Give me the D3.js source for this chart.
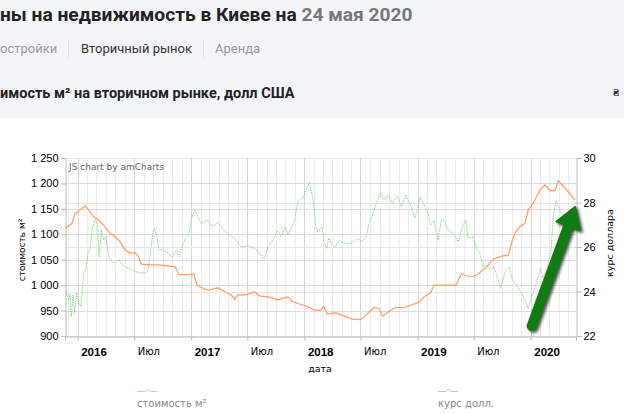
<!DOCTYPE html>
<html><head><meta charset="utf-8">
<script src="https://cdn.jsdelivr.net/npm/d3@7"></script>
<style>
html,body{margin:0;padding:0;background:#fff;}
svg{display:block;}
</style></head>
<body>
<svg id="c" width="624" height="414"></svg>
<script>
// ---- data ----
const priceDates = ["2015-11-22","2015-12-13","2015-12-24","2016-01-09","2016-01-25","2016-02-05","2016-02-21","2016-03-08","2016-03-24","2016-04-15","2016-05-01","2016-05-17","2016-06-02","2016-06-18","2016-07-04","2016-07-15","2016-07-24","2016-08-17","2016-09-18","2016-10-20","2016-11-10","2016-11-23","2016-12-18","2017-01-09","2017-01-20","2017-02-08","2017-02-24","2017-03-28","2017-04-29","2017-05-10","2017-05-21","2017-06-01","2017-06-27","2017-07-24","2017-08-10","2017-09-06","2017-10-08","2017-11-09","2017-11-20","2017-12-11","2018-01-12","2018-02-03","2018-02-22","2018-03-05","2018-03-16","2018-04-12","2018-05-09","2018-06-05","2018-07-02","2018-07-18","2018-08-14","2018-08-30","2018-09-10","2018-10-07","2018-10-23","2018-11-19","2018-12-11","2019-01-06","2019-01-22","2019-02-12","2019-02-23","2019-05-05","2019-05-23","2019-06-08","2019-06-30","2019-07-16","2019-08-12","2019-09-02","2019-09-29","2019-10-21","2019-11-01","2019-11-11","2019-11-27","2019-12-14","2019-12-24","2020-01-09","2020-01-31","2020-02-16","2020-03-03","2020-03-19","2020-03-30","2020-04-15","2020-05-01","2020-05-17","2020-05-24"];
const priceValues = [1112,1121,1141,1148,1156,1148,1135,1128,1118,1102,1095,1085,1069,1063,1064,1056,1041,1040,1040,1038,1036,1021,1020,1022,1000,994,990,995,984,981,972,981,981,987,979,977,971,977,969,964,958,951,951,958,943,946,939,933,932,941,956,954,939,951,956,956,961,966,977,985,1000,1000,1023,1018,1017,1022,1036,1051,1057,1059,1085,1102,1115,1122,1148,1161,1187,1197,1186,1186,1205,1195,1184,1171,1168];

const rateDates = ["2015-11-24","2015-12-03","2015-12-07","2015-12-11","2015-12-17","2015-12-22","2015-12-29","2016-01-04","2016-01-12","2016-01-20","2016-01-27","2016-02-03","2016-02-10","2016-02-18","2016-02-26","2016-03-05","2016-03-10","2016-03-17","2016-03-25","2016-04-01","2016-04-10","2016-04-26","2016-05-12","2016-05-23","2016-06-13","2016-07-04","2016-08-06","2016-08-15","2016-08-22","2016-08-30","2016-09-05","2016-09-13","2016-09-18","2016-09-29","2016-10-20","2016-10-31","2016-11-14","2016-11-23","2016-12-02","2016-12-13","2016-12-24","2017-01-01","2017-01-12","2017-01-23","2017-02-02","2017-02-13","2017-02-26","2017-03-09","2017-03-30","2017-04-19","2017-05-21","2017-06-11","2017-07-08","2017-07-30","2017-08-15","2017-08-24","2017-09-06","2017-09-22","2017-10-06","2017-10-19","2017-11-01","2017-11-09","2017-11-29","2017-12-11","2017-12-27","2018-01-06","2018-01-17","2018-01-25","2018-01-31","2018-02-07","2018-02-13","2018-02-27","2018-03-05","2018-03-14","2018-03-21","2018-04-01","2018-04-09","2018-04-23","2018-05-09","2018-05-31","2018-06-21","2018-07-07","2018-07-18","2018-07-29","2018-08-14","2018-08-25","2018-09-03","2018-09-16","2018-09-28","2018-10-12","2018-10-28","2018-11-10","2018-11-24","2018-12-11","2018-12-23","2019-01-03","2019-01-09","2019-01-20","2019-02-02","2019-02-12","2019-02-23","2019-03-08","2019-03-19","2019-03-27","2019-04-10","2019-04-26","2019-05-12","2019-05-28","2019-06-06","2019-06-13","2019-06-30","2019-07-10","2019-07-21","2019-07-31","2019-08-12","2019-08-22","2019-09-04","2019-09-18","2019-09-26","2019-10-09","2019-10-23","2019-11-03","2019-11-16","2019-12-02","2019-12-13","2019-12-24","2020-01-04","2020-01-14","2020-01-25","2020-02-02","2020-02-08","2020-02-22","2020-03-06","2020-03-14","2020-03-23","2020-04-05","2020-04-21","2020-05-07","2020-05-17","2020-05-24"];
const rateValues = [24.04,23.62,23.89,22.87,23.84,23.02,23.95,23.47,23.32,24.82,24.97,25.72,25.94,26.91,27.24,26.99,25.54,26.76,26.31,26.46,25.56,25.27,25.45,25.19,25.04,24.89,24.82,24.97,25.72,26.62,26.84,26.46,25.87,25.9,25.72,25.54,25.87,25.56,25.99,26.39,26.54,27.24,27.69,27.36,27.06,27.14,27.21,26.91,27.11,26.69,26.39,26.01,26.04,25.87,25.64,25.45,26.01,26.31,26.73,26.49,26.91,26.54,27.14,28.04,28.19,28.56,28.89,28.41,27.93,26.9,26.69,26.91,26.24,25.94,26.39,26.09,25.99,26.28,26.19,26.13,26.39,26.24,26.46,27.06,27.66,28.11,28.44,28.11,28.34,27.96,28.29,27.81,28.34,27.81,27.29,27.81,28.23,27.96,27.59,26.99,27.21,26.31,27.24,27.21,26.76,26.61,26.24,26.99,27.21,26.39,26.46,25.94,25.72,25.11,25.19,24.97,25.11,24.52,24.14,24.82,25.09,24.52,24.29,23.92,23.62,23.24,23.77,24.14,24.67,25.04,24.6,25.0,25.8,27.36,28.08,27.58,27.29,26.99,26.72,26.9];

const leftTicks = [900,950,1000,1050,1100,1150,1200,1250];
const rightTicks = [22,24,26,28,30];
const xTickDates = ["2016-01-01","2016-07-01","2017-01-01","2017-07-01","2018-01-01","2018-07-01","2019-01-01","2019-07-01","2020-01-01"];
const xTickLabels = ["2016","Июл","2017","Июл","2018","Июл","2019","Июл","2020"];
const xDomain = ["2015-11-21","2020-05-26"];
const seriesNames = ["стоимость м²","курс долл."];
// annotation arrow (date, rate)
const arrowTail = ["2020-01-04",22.45];
const arrowTip = ["2020-05-23",27.8];

// ---- drawing ----
const parse = d3.timeParse("%Y-%m-%d");
const svg = d3.select("#c");
const L=65, R=576, T=158, B=336;

svg.append("rect").attr("x",0).attr("y",0).attr("width",624).attr("height",118).attr("fill","#f4f5f9");

// header texts
const title = svg.append("text").attr("x",0).attr("y",21)
  .attr("font-family","Roboto").attr("font-weight","bold").attr("font-size",19.2).attr("fill","#222");
title.append("tspan").text("ны на недвижимость в Киеве на ");
title.append("tspan").attr("fill","#777").text("24 мая 2020");

svg.append("text").attr("x",0).attr("y",53).attr("font-family","Roboto").attr("font-size",13).attr("fill","#999").text("остройки");
svg.append("line").attr("x1",68.5).attr("x2",68.5).attr("y1",40).attr("y2",57).attr("stroke","#dcdde2");
svg.append("text").attr("x",81).attr("y",53).attr("font-family","Roboto").attr("font-size",13).attr("fill","#333").text("Вторичный рынок");
svg.append("line").attr("x1",203.5).attr("x2",203.5).attr("y1",40).attr("y2",57).attr("stroke","#dcdde2");
svg.append("text").attr("x",215).attr("y",53).attr("font-family","Roboto").attr("font-size",13).attr("fill","#999").text("Аренда");

svg.append("text").attr("x",0).attr("y",97.5).attr("font-family","Roboto").attr("font-weight","bold").attr("font-size",14.5).attr("fill","#222").text("имость м² на вторичном рынке, долл США");
svg.append("text").attr("x",613).attr("y",96).attr("font-family","Roboto").attr("font-weight","bold").attr("font-size",11).attr("fill","#222").text("₴");

// scales
const x = d3.scaleTime().domain(xDomain.map(parse)).range([L,R]);
const yL = d3.scaleLinear().domain([900,1250]).range([B,T]);
const yR = d3.scaleLinear().domain([22,30]).range([B,T]);

// grid
const grid = svg.append("g");
const months = d3.timeMonth.range(x.domain()[0], x.domain()[1]);
grid.selectAll("line.vm").data(months).join("line")
  .attr("x1",d=>Math.round(x(d))+0.5).attr("x2",d=>Math.round(x(d))+0.5)
  .attr("y1",T).attr("y2",B)
  .attr("stroke", d=> d.getMonth()%6===0 ? "#d8d8d8" : "#ececec");
grid.selectAll("line.hl").data(leftTicks).join("line")
  .attr("x1",L).attr("x2",R).attr("y1",d=>Math.round(yL(d))+0.5).attr("y2",d=>Math.round(yL(d))+0.5)
  .attr("stroke","#dedede");
grid.selectAll("line.hr").data(rightTicks).join("line")
  .attr("x1",L).attr("x2",R).attr("y1",d=>Math.round(yR(d))+0.5).attr("y2",d=>Math.round(yR(d))+0.5)
  .attr("stroke","#e6e6e6");

// credit
svg.append("text").attr("x",69).attr("y",170).attr("font-family","DejaVu Sans").attr("font-size",9).attr("fill","#666").text("JS chart by amCharts");

// axes
const loc = d3.formatLocale({decimal:",", thousands:"\u00a0", grouping:[3], currency:["",""]});
const fmt = loc.format(",d");
const axL = svg.append("g").attr("transform",`translate(${L+0.5},0)`)
  .call(d3.axisLeft(yL).tickValues(leftTicks).tickFormat(fmt).tickSize(4).tickPadding(3));
const axR = svg.append("g").attr("transform",`translate(${R+0.5},0)`)
  .call(d3.axisRight(yR).tickValues(rightTicks).tickSize(5).tickPadding(2));
const axB = svg.append("g").attr("transform",`translate(0,${B+0.5})`)
  .call(d3.axisBottom(x).tickValues(xTickDates.map(parse)).tickFormat((d,i)=>xTickLabels[i]).tickSize(4).tickPadding(7));
[axL,axR,axB].forEach(a=>{
  a.select(".domain").attr("stroke","#bbb");
  a.selectAll(".tick line").attr("stroke","#bbb");
  a.selectAll("text").attr("font-family","Liberation Sans").attr("font-size",11).attr("fill","#000");
});
axB.selectAll(".tick text").attr("text-anchor","start").attr("dx",3)
  .attr("font-weight",(d,i)=>xTickLabels[i]==="Июл"?"normal":"bold")
  .attr("font-size",(d,i)=>xTickLabels[i]==="Июл"?10:11.5)
  .attr("font-family",(d,i)=>xTickLabels[i]==="Июл"?"DejaVu Sans":"Liberation Sans");

// axis titles
svg.append("text").attr("transform","translate(25,250) rotate(-90)").attr("text-anchor","middle")
  .attr("font-family","DejaVu Sans").attr("font-size",9).attr("fill","#000").text("стоимость м²");
svg.append("text").attr("transform","translate(613,243) rotate(-90)").attr("text-anchor","middle")
  .attr("font-family","DejaVu Sans").attr("font-size",9.5).attr("fill","#000").text("курс доллара");
svg.append("text").attr("x",320).attr("y",372).attr("text-anchor","middle")
  .attr("font-family","DejaVu Sans").attr("font-size",9.5).attr("fill","#000").text("дата");

// lines
const priceData = priceDates.map((d,i)=>({d:parse(d), v:priceValues[i]}));
const rateData = rateDates.map((d,i)=>({d:parse(d), v:rateValues[i]}));
svg.append("path").datum(rateData)
  .attr("d", d3.line().x(p=>x(p.d)).y(p=>yR(p.v)))
  .attr("fill","none").attr("stroke","#5cc25c").attr("stroke-width",1).attr("stroke-dasharray","1.5,1").attr("opacity",0.7);
svg.append("path").datum(priceData)
  .attr("d", d3.line().x(p=>x(p.d)).y(p=>yL(p.v)))
  .attr("fill","none").attr("stroke","#ff9050").attr("stroke-width",1.2).attr("opacity",0.9);

// arrow annotation
const defs = svg.append("defs");
const f = defs.append("filter").attr("id","sh").attr("x","-50%").attr("y","-50%").attr("width","200%").attr("height","200%");
f.append("feGaussianBlur").attr("stdDeviation",1.6);
const tx = x(parse(arrowTail[0])), ty = yR(arrowTail[1]);
const hx = x(parse(arrowTip[0])), hy = yR(arrowTip[1]);
const len = Math.hypot(hx-tx, hy-ty), ux=(hx-tx)/len, uy=(hy-ty)/len, nx=-uy, ny=ux;
const headLen=20, headW=12.5, shaftW=10;
const bx = hx-ux*headLen, by = hy-uy*headLen;
function arrow(g, dx, dy, col){
  g.append("line").attr("x1",tx+dx).attr("y1",ty+dy).attr("x2",bx+ux*2+dx).attr("y2",by+uy*2+dy)
    .attr("stroke",col).attr("stroke-width",shaftW).attr("stroke-linecap","round");
  g.append("path").attr("d",`M${hx+dx},${hy+dy}L${bx+nx*headW+dx},${by+ny*headW+dy}L${bx-nx*headW+dx},${by-ny*headW+dy}Z`)
    .attr("fill",col).attr("stroke",col).attr("stroke-width",2).attr("stroke-linejoin","round");
}
arrow(svg.append("g").attr("filter","url(#sh)").attr("opacity",0.7), 2, 2, "#000");
arrow(svg.append("g"), 0, 0, "#0f7d12");

// legend
const legend = [{x:137, col:"#ff9050"},{x:438, col:"#5cc25c"}];
legend.forEach((l,i)=>{
  svg.append("path").attr("d",`M${l.x},391.5h8l2.5,-2.5l2.5,2.5h7`).attr("fill","none")
    .attr("stroke",l.col).attr("stroke-width",1).attr("opacity",0.6);
  svg.append("text").attr("x",l.x).attr("y",407).attr("font-family","DejaVu Sans").attr("font-size",10)
    .attr("fill","#888").text(seriesNames[i]);
});
</script>
</body></html>
